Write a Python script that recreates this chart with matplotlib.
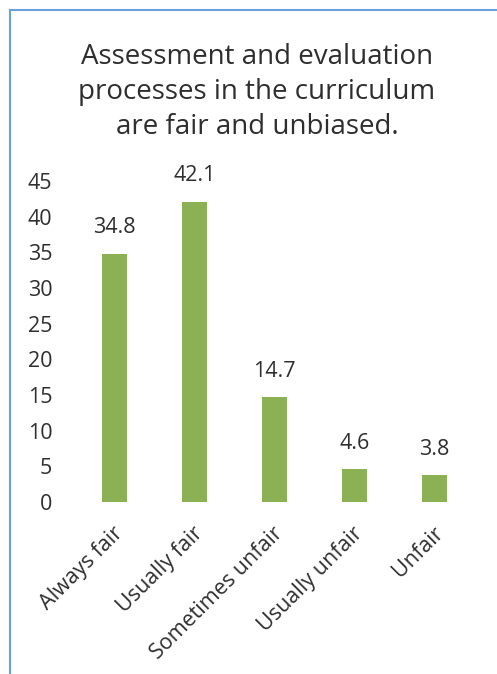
import matplotlib
matplotlib.use("Agg")
import matplotlib.pyplot as plt
from matplotlib.lines import Line2D
from matplotlib.transforms import ScaledTranslation

categories = ["Always fair", "Usually fair", "Sometimes unfair", "Usually unfair", "Unfair"]
values = [34.8, 42.1, 14.7, 4.6, 3.8]
yticks = [0, 5, 10, 15, 20, 25, 30, 35, 40, 45]
title = "Assessment and evaluation\nprocesses in the curriculum\nare fair and unbiased."

plt.rcParams['font.family'] = ['Open Sans', 'DejaVu Sans']
W, H = 497, 674
fig = plt.figure(figsize=(W / 100, H / 100), dpi=100)
fig.patch.set_facecolor("white")
tc = "#2e2e2e"

# axes: x from 74.5 to 474.5 px, y from 181 (45) to 502 (0)
ax = fig.add_axes([74.5 / W, 1 - 502 / H, 400 / W, 321 / H])
x = list(range(len(categories)))
ax.bar(x, values, width=0.31, color="#8cb054", edgecolor="none")
for xi, v in zip(x, values):
    ax.annotate(f"{v}", (xi, v), xytext=(0, 11), textcoords="offset points",
                ha="center", va="bottom", fontsize=15.5, color=tc)
ax.set_xlim(-0.5, 4.5)
ax.set_ylim(0, 45)
ax.set_yticks(yticks)
ax.set_yticklabels([str(t) for t in yticks], fontsize=15.5, color=tc)
ax.set_xticks(x)
ax.set_xticklabels(categories, rotation=45, ha="right", rotation_mode="anchor",
                   va="top", fontsize=15.5, color=tc)
ax.tick_params(axis="both", length=0)
ax.tick_params(axis="y", pad=16)
ax.tick_params(axis="x", pad=15)
shift = ScaledTranslation(-2 / 100, 0, fig.dpi_scale_trans)
for lbl in ax.get_xticklabels():
    lbl.set_transform(lbl.get_transform() + shift)
for s in ax.spines.values():
    s.set_visible(False)

fig.text(257 / W, 1 - 92 / H, title, ha="center", va="center", fontsize=20,
         color=tc, linespacing=1.32)

# border lines (left and top)
bc = "#6a9fe0"
fig.add_artist(Line2D([10 / W, 10 / W], [0, 1 - 10 / H], color=bc, lw=1.5, transform=fig.transFigure))
fig.add_artist(Line2D([10 / W, 1], [1 - 10 / H, 1 - 10 / H], color=bc, lw=1.5, transform=fig.transFigure))

fig.savefig("out.png", dpi=100, facecolor="white")
